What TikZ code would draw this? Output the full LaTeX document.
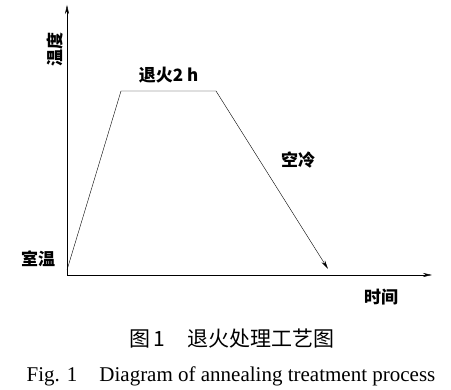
\documentclass[tikz,border=0pt]{standalone}
\usepackage{fontspec}
\setmainfont{Liberation Serif}
\newfontfamily\cjk{Noto Sans CJK SC}
\usetikzlibrary{calc,arrows.meta}

\begin{document}
\begin{tikzpicture}[x=1pt,y=-1pt,
    axis/.style={thin,-{Stealth[length=9pt,width=4pt]}},
    curve/.style={thin},
    lbl/.style={font=\cjk\bfseries\fontsize{17}{19}\selectfont}]
    \useasboundingbox (0,0) rectangle (451,390);

    \coordinate (O) at (67,275);
    \coordinate (Ytip) at (67,5);
    \coordinate (Xtip) at (432,275);
    \coordinate (S) at (67,270);
    \coordinate (A) at ($(S) + (54,-179)$);
    \coordinate (B) at ($(A) + (95,0)$);
    \coordinate (E) at (328,269);

    % axes
    \draw [axis] (O) -- (Ytip);
    \draw [axis] (O) -- (Xtip);

    % annealing curve
    \draw [curve] (S) -- (A) -- (B);
    \draw [axis] (B) -- (E);

    \node [lbl, rotate=90] (temp) at ($(O) + (-12,-225)$) {温度};
    \node [lbl] (hold) at ($(A)!0.5!(B) + (0,-16)$) {退火2 h};
    \node [lbl] (cool) at (298,160) {空冷};
    \node [lbl] (room) at ($(S) + (-29,-11)$) {室温};
    \node [lbl] (time) at ($(Xtip) + (-51,22)$) {时间};

    \node [font=\cjk\fontsize{21}{23}\selectfont] (capcn) at (232,339) {图\,1\hspace{22pt}退火处理工艺图};
    \node [font=\fontsize{21}{23}\selectfont] (capen) at (231,376) {Fig. 1\hspace{22pt}Diagram of annealing treatment process};
\end{tikzpicture}
\end{document}
